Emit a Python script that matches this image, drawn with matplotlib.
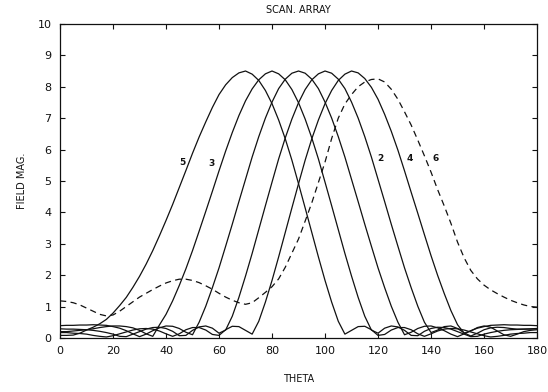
import numpy as np
import matplotlib
matplotlib.use("Agg")
import matplotlib.pyplot as plt

# sample angles (deg), 2.5 deg steps
theta = np.arange(0, 182.5, 2.5)

# curve labelled 5 (beam at ~70 deg)
field_5 = [0.08, 0.08, 0.09, 0.15, 0.25, 0.34, 0.45, 0.59, 0.79, 1.03,
           1.29, 1.61, 1.96, 2.35, 2.78, 3.25, 3.74, 4.25, 4.79, 5.33,
           5.88, 6.40, 6.88, 7.34, 7.75, 8.06, 8.29, 8.44, 8.50, 8.40,
           8.20, 7.88, 7.46, 6.94, 6.34, 5.66, 4.91, 4.14, 3.36, 2.58,
           1.83, 1.14, 0.53, 0.12, 0.24, 0.36, 0.37, 0.26, 0.08, 0.11,
           0.25, 0.33, 0.33, 0.26, 0.13, 0.05, 0.13, 0.22, 0.28, 0.30,
           0.29, 0.25, 0.19, 0.13, 0.07, 0.03, 0.05, 0.08, 0.12, 0.14,
           0.15, 0.17, 0.17]
# curve labelled 3 (beam at 80 deg)
field_3 = [0.20, 0.20, 0.22, 0.24, 0.26, 0.29, 0.33, 0.36, 0.38, 0.38,
           0.36, 0.32, 0.24, 0.13, 0.05, 0.41, 0.75, 1.18, 1.67, 2.20,
           2.78, 3.40, 4.03, 4.67, 5.32, 5.95, 6.54, 7.08, 7.55, 7.93,
           8.22, 8.41, 8.50, 8.41, 8.22, 7.91, 7.49, 6.97, 6.37, 5.70,
           4.96, 4.21, 3.45, 2.69, 1.97, 1.29, 0.69, 0.25, 0.15, 0.31,
           0.38, 0.35, 0.24, 0.08, 0.07, 0.21, 0.30, 0.34, 0.33, 0.28,
           0.20, 0.12, 0.04, 0.05, 0.12, 0.17, 0.21, 0.24, 0.26, 0.27,
           0.28, 0.28, 0.29]
# unlabelled curve (beam at 90 deg)
field_1 = [0.39, 0.40, 0.40, 0.41, 0.41, 0.42, 0.41, 0.40, 0.36, 0.31,
           0.23, 0.13, 0.04, 0.12, 0.23, 0.32, 0.38, 0.37, 0.30, 0.18,
           0.10, 0.50, 1.01, 1.60, 2.23, 2.92, 3.62, 4.34, 5.05, 5.76,
           6.41, 7.00, 7.51, 7.94, 8.24, 8.43, 8.50, 8.43, 8.24, 7.94,
           7.51, 7.00, 6.41, 5.76, 5.05, 4.34, 3.62, 2.92, 2.23, 1.60,
           1.01, 0.50, 0.10, 0.18, 0.30, 0.37, 0.38, 0.32, 0.23, 0.12,
           0.04, 0.13, 0.23, 0.31, 0.36, 0.40, 0.41, 0.42, 0.41, 0.41,
           0.40, 0.40, 0.39]
# curve labelled 2 (beam at 100 deg)
field_2 = [0.29, 0.28, 0.28, 0.27, 0.26, 0.24, 0.21, 0.17, 0.12, 0.05,
           0.04, 0.12, 0.20, 0.28, 0.33, 0.34, 0.30, 0.21, 0.07, 0.08,
           0.24, 0.35, 0.38, 0.31, 0.15, 0.25, 0.69, 1.29, 1.97, 2.69,
           3.45, 4.21, 4.96, 5.70, 6.37, 6.97, 7.49, 7.91, 8.22, 8.41,
           8.50, 8.43, 8.24, 7.94, 7.51, 7.00, 6.41, 5.76, 5.05, 4.34,
           3.62, 2.92, 2.23, 1.60, 1.01, 0.50, 0.17, 0.25, 0.36, 0.38,
           0.30, 0.16, 0.06, 0.15, 0.26, 0.32, 0.34, 0.33, 0.30, 0.28,
           0.28, 0.29, 0.30]
# curve labelled 4 (beam at 110 deg)
field_4 = [0.17, 0.17, 0.15, 0.14, 0.12, 0.08, 0.05, 0.03, 0.07, 0.13,
           0.19, 0.25, 0.29, 0.30, 0.28, 0.22, 0.13, 0.05, 0.13, 0.26,
           0.33, 0.33, 0.25, 0.11, 0.08, 0.26, 0.37, 0.36, 0.24, 0.12,
           0.53, 1.14, 1.83, 2.58, 3.36, 4.14, 4.91, 5.66, 6.34, 6.94,
           7.46, 7.88, 8.20, 8.40, 8.50, 8.44, 8.26, 7.98, 7.60, 7.12,
           6.58, 5.98, 5.32, 4.64, 3.97, 3.29, 2.62, 1.99, 1.41, 0.87,
           0.42, 0.15, 0.22, 0.33, 0.38, 0.34, 0.22, 0.10, 0.05, 0.12,
           0.20, 0.24, 0.26]
# dashed curve labelled 6
field_6 = [1.18, 1.16, 1.12, 1.05, 0.95, 0.85, 0.75, 0.70, 0.73, 0.85,
           1.00, 1.15, 1.30, 1.42, 1.54, 1.65, 1.75, 1.82, 1.87, 1.87,
           1.83, 1.76, 1.66, 1.55, 1.42, 1.30, 1.20, 1.12, 1.07, 1.12,
           1.28, 1.45, 1.63, 1.88, 2.25, 2.70, 3.15, 3.72, 4.30, 4.95,
           5.60, 6.35, 7.00, 7.45, 7.75, 8.00, 8.15, 8.23, 8.25, 8.15,
           7.92, 7.60, 7.20, 6.78, 6.30, 5.80, 5.28, 4.72, 4.20, 3.65,
           3.05, 2.55, 2.15, 1.88, 1.68, 1.53, 1.41, 1.30, 1.20, 1.12,
           1.05, 1.00, 0.98]

curve_labels = ["5", "3", "2", "4", "6"]
label_x = [46.3, 57.0, 121.0, 131.8, 141.9]
label_y = [5.6, 5.56, 5.7, 5.72, 5.72]

fig = plt.figure(figsize=(5.48, 3.92), dpi=100)
ax = fig.add_axes([0.1095, 0.138, 0.8705, 0.801])

ink = "#111111"
for f in [field_5, field_3, field_1, field_2, field_4]:
    ax.plot(theta, f, color=ink, lw=0.9)
ax.plot(theta, field_6, color=ink, lw=0.9, dashes=(5, 3.5))

for t, x, y in zip(curve_labels, label_x, label_y):
    ax.text(x, y, t, fontsize=6.5, ha="center", va="center", color=ink,
            fontweight="bold")

ax.set_xlim(0, 180)
ax.set_ylim(0, 10)
ax.set_xticks(range(0, 181, 20))
ax.set_yticks(range(0, 11))
ax.tick_params(direction="in", top=True, right=True, length=3.5,
               width=0.8, labelsize=8, colors=ink, pad=6)
for s in ax.spines.values():
    s.set_linewidth(0.9)
    s.set_color(ink)

ax.set_title("SCAN. ARRAY", fontsize=7, pad=8, color=ink)
ax.set_xlabel("THETA", fontsize=7, labelpad=13, color=ink)
ax.set_ylabel("FIELD MAG.", fontsize=7, labelpad=8, color=ink)

fig.savefig("out.png", dpi=100)
